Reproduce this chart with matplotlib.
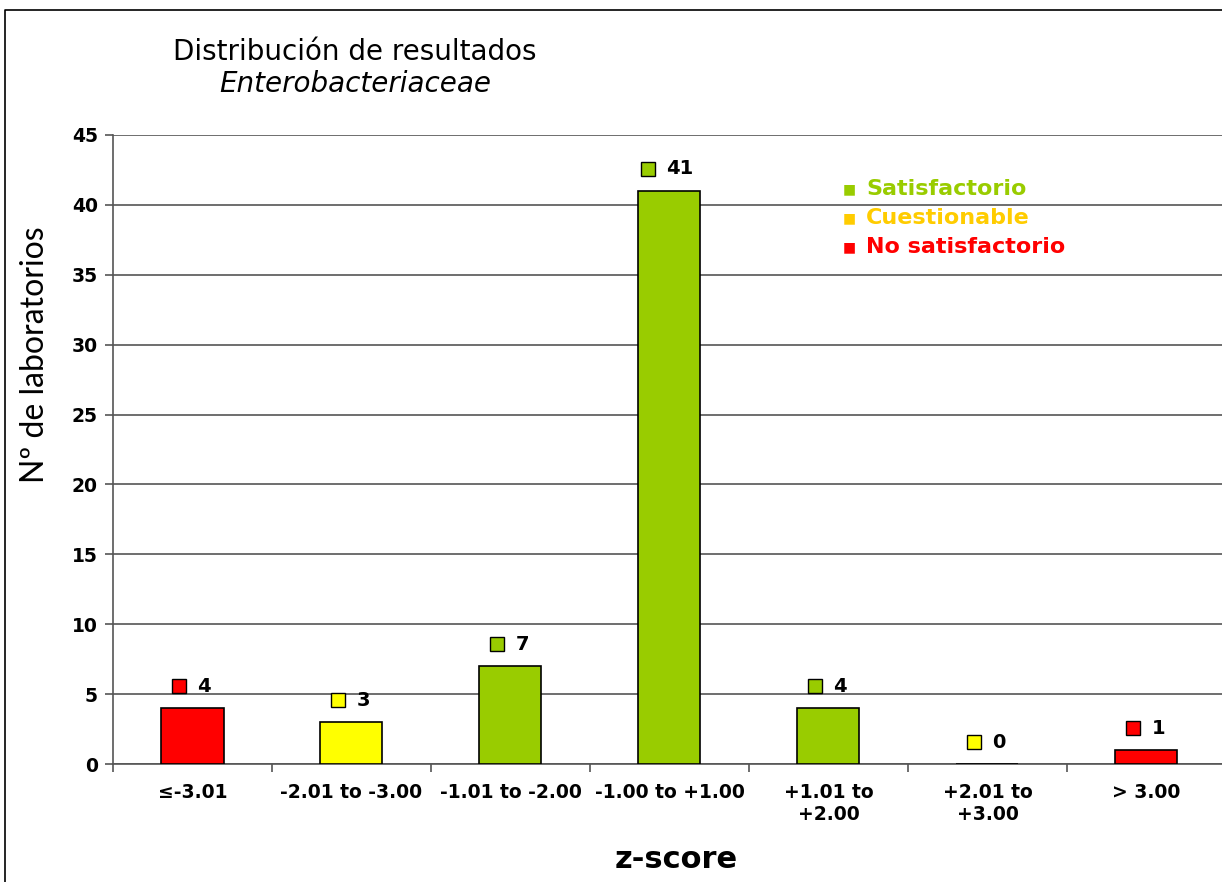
import numpy as np
import matplotlib.pyplot as plt
from matplotlib.lines import Line2D
from matplotlib.transforms import ScaledTranslation

categories = ['≤-3.01', '-2.01 to -3.00', '-1.01 to -2.00', '-1.00 to +1.00',
              '+1.01 to\n+2.00', '+2.01 to\n+3.00', '> 3.00']
counts = [4, 3, 7, 41, 4, 0, 1]
bar_colors = ['#FF0000', '#FFFF00', '#99CC00', '#99CC00', '#99CC00', '#FFFF00', '#FF0000']
legend_labels = ['Satisfactorio', 'Cuestionable', 'No satisfactorio']
legend_colors = ['#99CC00', '#FFCC00', '#FF0000']

W, H = 1222, 882
fig = plt.figure(figsize=(W / 100, H / 100), dpi=100)
ax = fig.add_axes([113 / W, 118 / H, (W - 113) / W, 629 / H])

x = np.arange(len(categories)) + 0.5
ax.bar(x, counts, width=0.39, color=bar_colors, edgecolor='black', linewidth=1.2, zorder=3)

ax.set_xlim(0, 6.975)
ax.set_ylim(0, 45)
ax.set_yticks(range(0, 46, 5))
ax.yaxis.grid(True, color='#555555', linewidth=1.2, zorder=0)
ax.set_xticks(np.arange(0, 7))
ax.set_xticklabels([])
ax.set_xticks(x, minor=True)
ax.set_xticklabels(categories, minor=True, fontsize=13.5, fontweight='bold',
                   family='DejaVu Sans', linespacing=1.15)
ax.tick_params(axis='x', which='minor', length=0, pad=14)
ax.tick_params(axis='x', which='major', length=6, color='#555555', width=1.2)
ax.tick_params(axis='y', length=6, color='#555555', width=1.2, pad=5)
for lab in ax.get_yticklabels():
    lab.set_fontsize(13.5)
    lab.set_fontweight('bold')
    lab.set_family('DejaVu Sans')
for s in ['top', 'right']:
    ax.spines[s].set_visible(False)
for s in ['left', 'bottom']:
    ax.spines[s].set_color('#555555')
    ax.spines[s].set_linewidth(1.2)

# value labels: small coloured square followed by the number
for xi, v, c in zip(x, counts, bar_colors):
    n = len(str(v))
    dx = -(5 + 8 * n)
    ax.plot([xi], [v], marker='s', markersize=10.5, markerfacecolor=c,
            markeredgecolor='black', markeredgewidth=1.0, linestyle='none',
            transform=ax.transData + ScaledTranslation(dx / 100, 22 / 100, fig.dpi_scale_trans),
            zorder=4, clip_on=False)
    ax.annotate(str(v), xy=(xi, v), xytext=((dx + 18) * 0.72, 22 * 0.72),
                textcoords='offset points', ha='left', va='center',
                fontsize=14, fontweight='bold', family='DejaVu Sans')

# legend as coloured text
for i, (lab, col) in enumerate(zip(legend_labels, legend_colors)):
    yy = 1 - (189 + 29 * i) / H
    fig.text(843 / W, yy, '■', color=col, fontsize=10, va='center', ha='left',
             family='DejaVu Sans')
    fig.text(866 / W, yy, lab, color=col, fontsize=16, fontweight='bold',
             va='center', ha='left', family='DejaVu Sans')

fig.text(355 / W, 1 - 52 / H, 'Distribución de resultados', fontsize=20,
         ha='center', va='center', family='DejaVu Sans')
fig.text(355 / W, 1 - 84 / H, 'Enterobacteriaceae', fontsize=20, style='italic',
         ha='center', va='center', family='DejaVu Sans')
fig.text(35 / W, 1 - 355 / H, 'Nº de laboratorios', fontsize=23, rotation=90,
         ha='center', va='center', family='Lato')
fig.text(676 / W, 1 - 860 / H, 'z-score', fontsize=22, fontweight='bold',
         ha='center', va='center', family='DejaVu Sans')

# outer frame
fig.add_artist(Line2D([5 / W, 5 / W, 1], [0, 1 - 10 / H, 1 - 10 / H],
                      color='black', linewidth=1.2, transform=fig.transFigure))

fig.savefig('out.png', dpi=100)
